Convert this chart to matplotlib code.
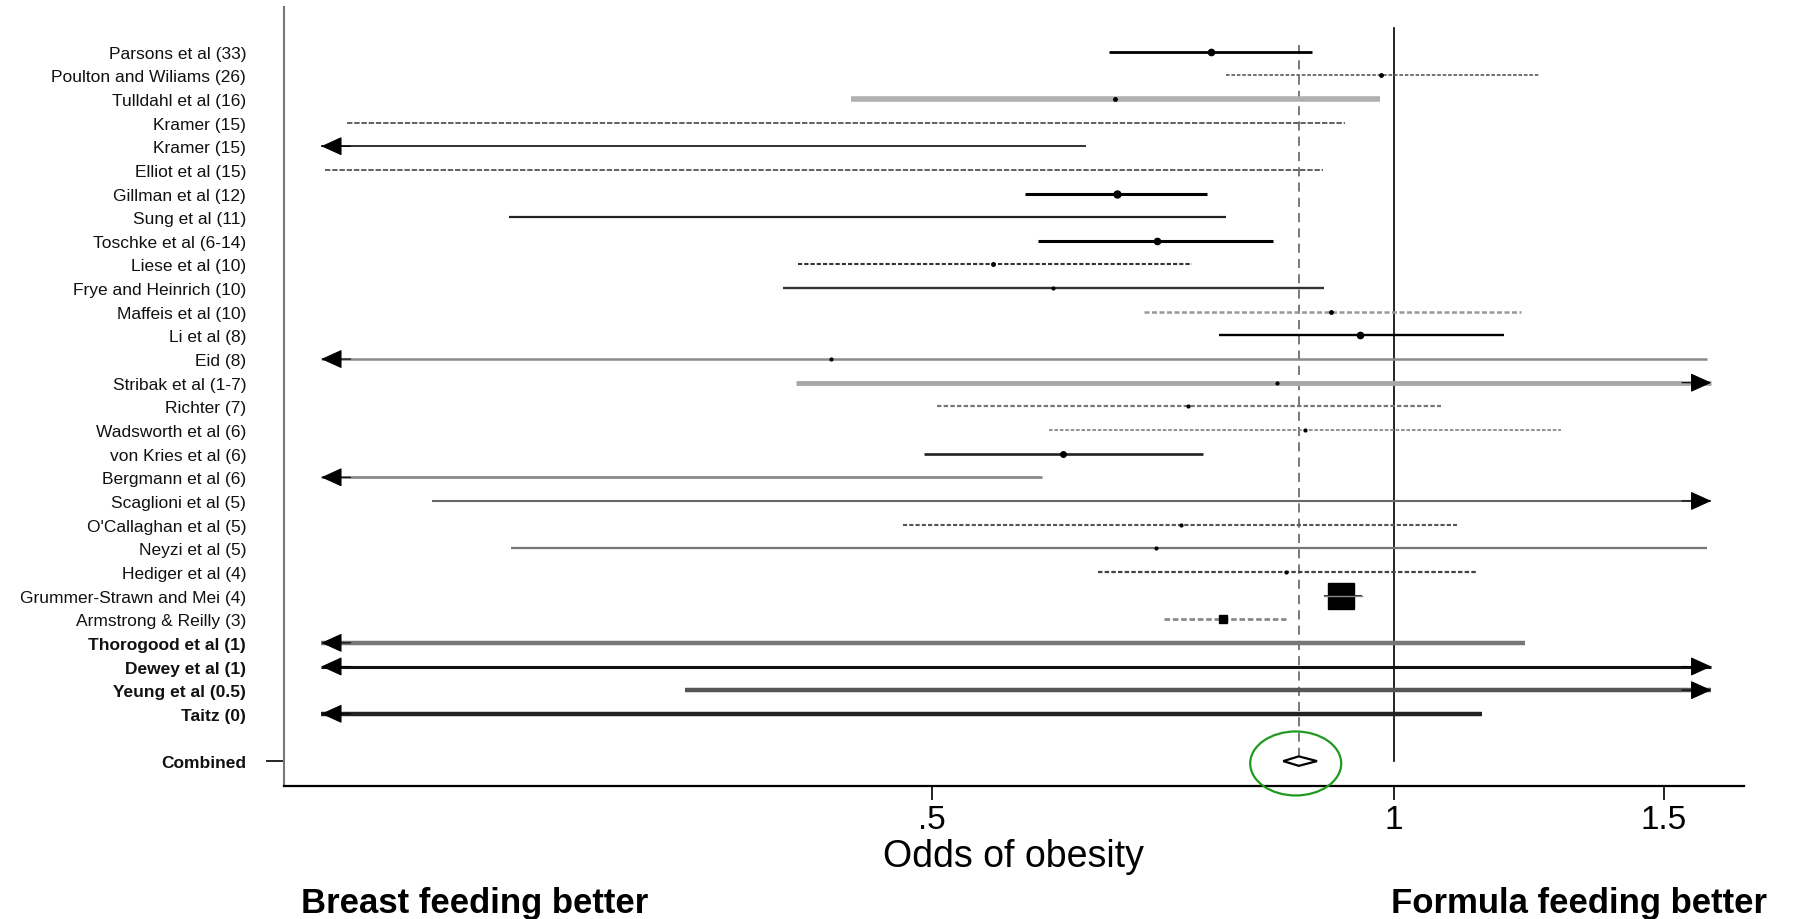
import numpy as np
import matplotlib
matplotlib.use("Agg")
import matplotlib.pyplot as plt
from matplotlib.patches import Ellipse, Polygon
from matplotlib.transforms import IdentityTransform
from matplotlib.ticker import FixedLocator, NullLocator, FixedFormatter, NullFormatter

plt.rcParams['font.family'] = ['Liberation Sans', 'DejaVu Sans']

# ---------------- data ----------------
studies = ["Parsons et al (33)", "Poulton and Wiliams (26)", "Tulldahl et al (16)",
           "Kramer (15)", "Kramer (15)", "Elliot et al (15)", "Gillman et al (12)",
           "Sung et al (11)", "Toschke et al (6-14)", "Liese et al (10)",
           "Frye and Heinrich (10)", "Maffeis et al (10)", "Li et al (8)", "Eid (8)",
           "Stribak et al (1-7)", "Richter (7)", "Wadsworth et al (6)",
           "von Kries et al (6)", "Bergmann et al (6)", "Scaglioni et al (5)",
           "O'Callaghan et al (5)", "Neyzi et al (5)", "Hediger et al (4)",
           "Grummer-Strawn and Mei (4)", "Armstrong & Reilly (3)",
           "Thorogood et al (1)", "Dewey et al (1)", "Yeung et al (0.5)", "Taitz (0)"]
odds = [0.760, 0.981, 0.658, 0.45, 0.30, 0.41, 0.660, 0.45, 0.701, 0.548,
        0.600, 0.910, 0.950, 0.43, 0.839, 0.734, 0.875, 0.609, 0.35, 0.80,
        0.726, 0.700, 0.851, 0.924, 0.774, 0.40, 0.90, 0.90, 0.50]
ci_low = [0.652, 0.777, 0.443, 0.208, 0.15, 0.201, 0.575, 0.265, 0.586, 0.409,
          0.400, 0.687, 0.769, 0.15, 0.408, 0.504, 0.596, 0.494, 0.15, 0.236,
          0.479, 0.266, 0.641, 0.901, 0.708, 0.15, 0.15, 0.345, 0.15]
ci_high = [0.885, 1.243, 0.980, 0.929, 0.630, 0.899, 0.756, 0.777, 0.834, 0.739,
           0.901, 1.210, 1.179, 1.60, 2.0, 1.073, 1.285, 0.751, 0.590, 2.0,
           1.099, 1.60, 1.132, 0.953, 0.850, 1.218, 2.0, 2.0, 1.141]
combined_label = "Combined"
combined_or, combined_lo, combined_hi = 0.867, 0.847, 0.891
xtick_vals = [0.5, 1.0, 1.5]
xtick_labels = [".5", "1", "1.5"]
bold_labels = ["Thorogood et al (1)", "Dewey et al (1)", "Yeung et al (0.5)", "Taitz (0)"]

# ---------------- styles ----------------
# (color, linewidth, linestyle, marker, markersize)
styles = [
    ('black', 2.0, '-', 'o', 4.5),
    ('#666666', 1.3, (0, (2, 1)), 'o', 2.5),
    ('#b0b0b0', 4.0, '-', 'o', 2.5),
    ('#555555', 1.3, (0, (3, 1)), None, 0),
    ('#222222', 1.3, '-', None, 0),
    ('#555555', 1.3, (0, (3, 1)), None, 0),
    ('black', 2.2, '-', 'o', 5),
    ('#222222', 1.6, '-', None, 0),
    ('black', 2.2, '-', 'o', 4.5),
    ('#333333', 1.5, (0, (2, 1)), 'o', 2.5),
    ('#333333', 1.7, '-', 'o', 2),
    ('#999999', 1.8, (0, (2, 1)), 'o', 2.5),
    ('black', 1.7, '-', 'o', 4.5),
    ('#8a8a8a', 1.8, '-', 'o', 2),
    ('#a8a8a8', 3.5, '-', 'o', 2),
    ('#777777', 1.6, (0, (2, 1)), 'o', 2),
    ('#8a8a8a', 1.3, (0, (2, 1)), 'o', 2),
    ('#222222', 1.9, '-', 'o', 4),
    ('#8a8a8a', 2.0, '-', None, 0),
    ('#666666', 1.5, '-', None, 0),
    ('#555555', 1.5, (0, (2, 1)), 'o', 2),
    ('#777777', 1.6, '-', 'o', 2),
    ('#444444', 1.6, (0, (2, 1)), 'o', 2),
    ('black', 1.2, '-', 's', 19),
    ('#8a8a8a', 2.0, (0, (2, 1)), 's', 6),
    ('#777777', 3.2, '-', None, 0),
    ('#111111', 2.2, '-', None, 0),
    ('#555555', 3.2, '-', None, 0),
    ('#222222', 3.2, '-', None, 0),
]

XL, XR = 0.2, 1.61  # clip/arrow positions
W, H = 1793, 920
fig = plt.figure(figsize=(W / 100, H / 100), dpi=100)
ax = fig.add_axes([283.6 / W, 1 - 786.7 / H, (1744 - 283.6) / W, (786.7 - 8) / H])
ax.set_xscale('log')
ax.set_xlim(0.189, 1.691)
ax.set_ylim(31.04, -1.886)

rows = np.arange(len(studies))
comb_row = len(studies) + 1


def head(x_from, x_to, y):
    ax.annotate('', xy=(x_to, y), xytext=(x_from, y),
                arrowprops=dict(arrowstyle='-|>,head_length=1.1,head_width=0.5',
                                mutation_scale=12, color='black', lw=0.8,
                                shrinkA=0, shrinkB=0))


# reference lines
ax.plot([1, 1], [-1.0, comb_row], color='black', lw=1.2, zorder=1)
ax.plot([combined_or, combined_or], [-0.3, comb_row - 0.2], color='#555555',
        lw=1.1, ls=(0, (6, 4)), zorder=1)

for y, o, lo, hi, st in zip(rows, odds, ci_low, ci_high, styles):
    c, lw, ls, mk, ms = st
    l = max(lo, XL)
    h = min(hi, XR)
    ax.plot([l, h], [y, y], color=c, lw=lw, ls=ls, solid_capstyle='butt', zorder=2)
    if lo < XL:
        head(XL * 1.045, XL, y)
    if hi > XR:
        head(XR / 1.045, XR, y)
    if mk is not None:
        ax.plot([o], [y], marker=mk, ms=ms, color='black', mec='black', zorder=3)
        if mk == 's' and ms > 10:
            ax.plot([lo, hi], [y, y], color='#888888', lw=1.0, zorder=4)

# combined diamond
dia = Polygon([(combined_lo, comb_row), (combined_or, comb_row - 0.2),
               (combined_hi, comb_row), (combined_or, comb_row + 0.2)],
              closed=True, facecolor='white', edgecolor='black', lw=1.6, zorder=5)
ax.add_patch(dia)

# axes styling
for s in ['top', 'right']:
    ax.spines[s].set_visible(False)
ax.spines['left'].set_color('#777777')
ax.spines['left'].set_linewidth(1.5)
ax.spines['bottom'].set_color('black')
ax.spines['bottom'].set_linewidth(1.6)

ax.xaxis.set_major_locator(FixedLocator(xtick_vals))
ax.xaxis.set_major_formatter(FixedFormatter(xtick_labels))
ax.xaxis.set_minor_locator(NullLocator())
ax.xaxis.set_minor_formatter(NullFormatter())
ax.tick_params(axis='x', length=10, width=1.2, labelsize=24, pad=3)

ylabels = list(studies) + [combined_label]
ax.set_yticks(list(rows) + [comb_row])
ax.set_yticklabels(ylabels)
ax.tick_params(axis='y', length=0, pad=27, labelsize=12.5)
for t in ax.get_yticklabels():
    if t.get_text() in bold_labels or t.get_text() == combined_label:
        t.set_fontweight('bold')
    t.set_color('#111111')
ticks = ax.yaxis.get_major_ticks()
ticks[-1].tick1line.set_markersize(13)
ticks[-1].tick1line.set_markeredgewidth(1.2)
ticks[-1].tick1line.set_color('#333333')
ticks[-1].tick1line.set_visible(True)

# texts
fig.text(1013 / W, 1 - 857 / H, "Odds of obesity", ha='center', va='center', fontsize=27)
fig.text(301 / W, 1 - 904 / H, "Breast feeding better", ha='left', va='center',
         fontsize=25, fontweight='bold')
fig.text(1767 / W, 1 - 904 / H, "Formula feeding better", ha='right', va='center',
         fontsize=25, fontweight='bold')

# green highlight ellipse around combined estimate
cx, cy = ax.transData.transform((0.863, comb_row + 0.1))
ell = Ellipse((cx, cy), width=91, height=64, transform=IdentityTransform(),
              facecolor='none', edgecolor='#1f9a1f', lw=1.6, clip_on=False, zorder=6)
fig.patches.append(ell)
ell.set_figure(fig)

fig.savefig("out.png", dpi=100)
